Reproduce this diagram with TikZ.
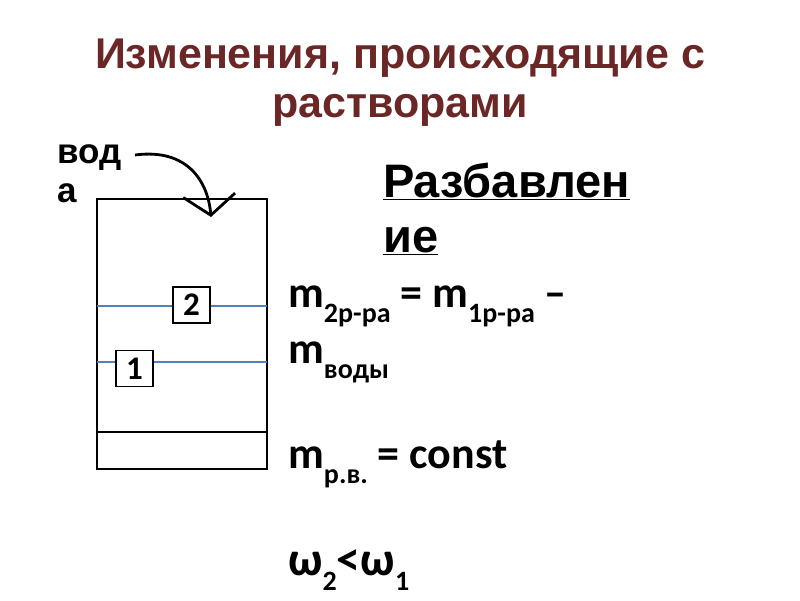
\documentclass[tikz,border=0pt]{standalone}
\usepackage{fontspec}
\setmainfont{Liberation Sans}
\newfontfamily\calibri{Carlito}
\usetikzlibrary{arrows.meta}
\definecolor{titlered}{HTML}{6B2626}
\definecolor{levelblue}{HTML}{4F81BD}
\newcommand{\lowtxt}[1]{\raisebox{-15pt}{\fontsize{28}{28}\selectfont #1}}

\begin{document}
\begin{tikzpicture}[x=1pt, y=-1pt,
    heading/.style={anchor=base, inner sep=0pt, text=titlered, font=\bfseries\fontsize{43}{43}\selectfont},
    label/.style={anchor=base west, inner sep=0pt, font=\bfseries\fontsize{47}{47}\selectfont},
    formula/.style={anchor=base west, inner sep=0pt, font=\calibri\bfseries\fontsize{44}{44}\selectfont},
    numbox/.style={draw, fill=white, line width=1.5pt, minimum width=37pt, minimum height=36pt,
        inner sep=0pt, font=\calibri\bfseries\fontsize{33}{33}\selectfont}]
    \useasboundingbox (0,0) rectangle (800,600);
    \node[heading] (title1) at (400,68) {Изменения, происходящие с};
    \node[heading] (title2) at (400,117) {растворами};
    % beaker with the two levels
    \draw[line width=1.8pt] (97,199) rectangle (267,469);
    \draw[levelblue, line width=1.5pt] (97,306) -- (267,306);
    \draw[levelblue, line width=1.5pt] (97,362) -- (267,362);
    \draw[line width=2.2pt] (97,432) -- (267,432);
    \node[numbox] (lvl2) at (191.5,305) {2};
    \node[numbox] (lvl1) at (134.5,368.5) {1};
    \node[anchor=base west, inner sep=0pt, font=\bfseries\fontsize{35}{35}\selectfont] (water1) at (57,163) {вод};
    \node[anchor=base west, inner sep=0pt, font=\bfseries\fontsize{35}{35}\selectfont] (water2) at (57,202) {а};
    \coordinate (pour) at (135,155);
    \coordinate (drop) at (211,217);
    \draw[line width=2.8pt, -{Straight Barb[length=20pt, width=52pt]}]
        (pour) .. controls (188,148) and (208,182) .. (drop);
    \node[label] (dil1) at (383,197) {\underline{Разбавлен}};
    \node[label] (dil2) at (383,252) {\underline{ие}};
    \node[formula] (mass) at (288,307) {m\lowtxt{2р-ра} = m\lowtxt{1р-ра} –};
    \node[formula] (waterm) at (288,363) {m\lowtxt{воды}};
    \node[formula] (solute) at (288,468) {m\lowtxt{р.в.} = const};
    \node[formula, font=\calibri\bfseries\fontsize{48}{48}\selectfont] (omega) at (288,575) {ω\lowtxt{2}<ω\lowtxt{1}};
\end{tikzpicture}
\end{document}
